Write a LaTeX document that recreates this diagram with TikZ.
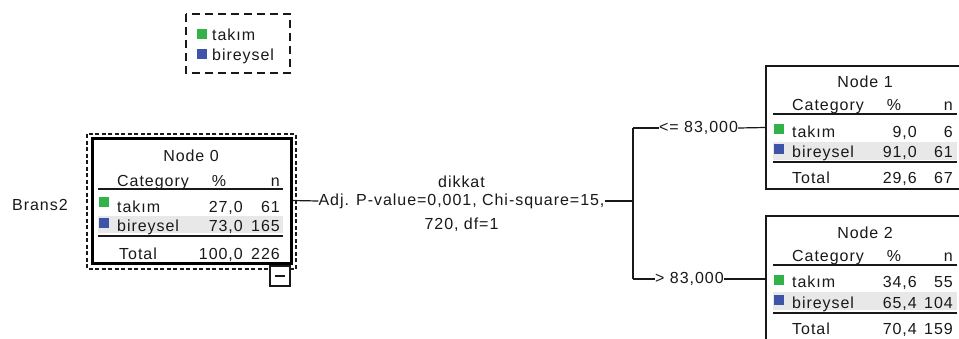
\documentclass[tikz,border=0pt]{standalone}
\usepackage{fontspec}
\setmainfont{Liberation Sans}[LetterSpace=6]
\definecolor{tgreen}{RGB}{52,178,74}
\definecolor{tblue}{RGB}{62,84,168}
\definecolor{band}{RGB}{232,232,232}
\definecolor{ink}{RGB}{25,25,25}
\tikzset{
  txt/.style={inner sep=0pt, anchor=base west, text=ink},
  txtr/.style={inner sep=0pt, anchor=base east, text=ink},
  txtc/.style={inner sep=0pt, anchor=base, text=ink},
  nodebox/.style={draw=ink, line width=1.4pt, rectangle, inner sep=0pt},
  rootbox/.style={draw=black, line width=3pt, rectangle, inner sep=0pt},
  conn/.style={draw=ink, line width=1.2pt},
  rule/.style={draw=ink, line width=1.2pt},
  rulethick/.style={draw=ink, line width=2pt},
  sq/.style={inner sep=0pt, minimum size=10pt},
}
\begin{document}
\begin{tikzpicture}[x=1pt,y=-1pt,font=\fontsize{16}{18}\selectfont]
\useasboundingbox (0,0) rectangle (959,338);
\fill[white] (0,0) rectangle (959,338);
\clip (0,0) rectangle (959,338);

% legend
\draw[ink, line width=1.4pt, dash pattern=on 8pt off 5pt] (186,14) rectangle (290,73);
\node[sq, fill=tgreen] (lgs1) at (202,34) {};
\node[txt] (lg1) at (212,40) {takım};
\node[sq, fill=tblue] (lgs2) at (202,54) {};
\node[txt] (lg2) at (212,60) {bireysel};

% root label
\node[txt] (brans) at (12,210) {Brans2};

% Node 0
\fill[band] (98,216) rectangle (283,233);
\node[rootbox, minimum width=199pt, minimum height=125pt] (n0) at (191.5,200.5) {};
\draw[ink, line width=1.4pt, dash pattern=on 4pt off 2.5pt] (87,134) rectangle (296,269);
\node[draw=ink, line width=1.2pt, fill=white, minimum width=20pt, minimum height=20pt, inner sep=0pt] (col) at (280,276) {};
\draw[ink, line width=1.2pt] ([xshift=-5pt]col.center) -- ([xshift=5pt]col.center);
\node[txtc] (t0) at (191,161) {Node 0};
\node[txt] (c0) at (117,186) {Category};
\node[txtc] (p0) at (219,186) {\%};
\node[txtr] (m0) at (280,186) {n};
\draw[rule] (98,189) -- (283,189);
\node[sq, fill=tgreen] at (104,202) {};
\node[txt] (a0) at (117,212) {takım};
\node[txtr] at (243,212) {27,0};
\node[txtr] at (280,212) {61};
\node[sq, fill=tblue] at (104,223) {};
\node[txt] (b0) at (117,231) {bireysel};
\node[txtr] at (243,231) {73,0};
\node[txtr] at (280,231) {165};
\draw[rulethick] (98,236) -- (283,236);
\node[txt] (s0) at (119,259) {Total};
\node[txtr] at (243,259) {100,0};
\node[txtr] at (280,259) {226};

% split label
\node[inner sep=0pt, text=ink] (adj) at (461.5,201) {Adj. P-value=0,001, Chi-square=15,};
\node[inner sep=0pt, text=ink] (dik) at (461.5,182) {dikkat};
\node[inner sep=0pt, text=ink] (df) at (461.5,225) {720, df=1};
\coordinate (fork) at (633,201);
\coordinate (up) at (633,128);
\coordinate (dn) at (633,279);

% Node 1
\fill[band] (773,142) rectangle (957,160);
\node[nodebox, minimum width=200pt, minimum height=123pt] (n1) at (866,127.5) {};
\node[txtc] at (865,87) {Node 1};
\node[txt] at (792,110) {Category};
\node[txtc] at (894,110) {\%};
\node[txtr] at (953,110) {n};
\draw[rule] (773,114) -- (957,114);
\node[sq, fill=tgreen] at (779,129) {};
\node[txt] at (792,137) {takım};
\node[txtr] at (917,137) {9,0};
\node[txtr] at (953,137) {6};
\node[sq, fill=tblue] at (779,149) {};
\node[txt] at (792,157) {bireysel};
\node[txtr] at (917,157) {91,0};
\node[txtr] at (953,157) {61};
\draw[rulethick] (773,161.5) -- (957,161.5);
\node[txt] at (792,183) {Total};
\node[txtr] at (917,183) {29,6};
\node[txtr] at (953,183) {67};

% Node 2
\fill[band] (773,292) rectangle (957,310);
\node[nodebox, minimum width=200pt, minimum height=126pt] (n2) at (866,279) {};
\node[txtc] at (865,238) {Node 2};
\node[txt] at (792,261) {Category};
\node[txtc] at (894,261) {\%};
\node[txtr] at (953,261) {n};
\draw[rule] (773,265) -- (957,265);
\node[sq, fill=tgreen] at (779,280) {};
\node[txt] at (792,287) {takım};
\node[txtr] at (917,287) {34,6};
\node[txtr] at (953,287) {55};
\node[sq, fill=tblue] at (779,300) {};
\node[txt] at (792,308) {bireysel};
\node[txtr] at (917,308) {65,4};
\node[txtr] at (953,308) {104};
\draw[rulethick] (773,312.5) -- (957,312.5);
\node[txt] at (792,334) {Total};
\node[txtr] at (917,334) {70,4};
\node[txtr] at (953,334) {159};

% edge labels
\node[inner sep=0pt, text=ink, anchor=west] (le1) at (659,128) {<= 83,000};
\node[inner sep=0pt, text=ink, anchor=west] (le2) at (655,279) {> 83,000};

% connectors
\draw[conn] (n0.east) -- (adj.west);
\draw[conn] (adj.east) -- (fork);
\draw[conn] (up) -- (dn);
\draw[conn] (up) -- (le1.west);
\draw[conn] (le1.east) -- (n1.west);
\draw[conn] (dn) -- (le2.west);
\draw[conn] (le2.east) -- (n2.west);
\end{tikzpicture}
\end{document}
